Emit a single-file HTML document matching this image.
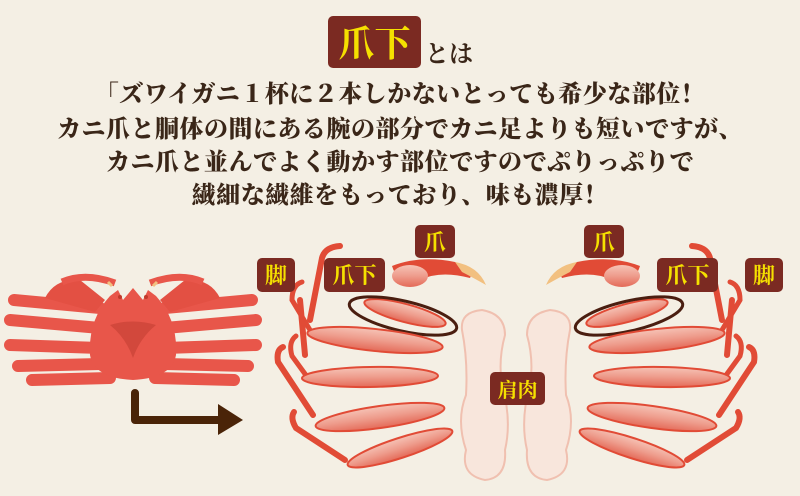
<!DOCTYPE html>
<html><head><meta charset="utf-8"><style>
html,body{margin:0;padding:0;}
body{width:800px;height:496px;background:#f4efe4;overflow:hidden;position:relative;font-family:"Noto Serif CJK SC","Noto Serif CJK JP",serif;}
.t{position:absolute;left:0;width:800px;text-align:center;color:#3a2618;font-weight:900;font-size:24px;line-height:32px;letter-spacing:0.5px;}
.lab{position:absolute;background:#7b2a22;color:#f5e000;font-weight:bold;border-radius:5px;text-align:center;font-family:"Noto Serif CJK SC",serif;}
</style></head><body>
<div class="lab" style="left:328px;top:16px;width:93px;height:52px;font-size:36px;line-height:52px;">爪下</div>
<div style="position:absolute;left:425px;top:34px;font-size:24px;color:#3a2618;font-weight:bold;">とは</div>
<div class="t" style="top:76px;">「ズワイガニ１杯に２本しかないとっても希少な部位！</div>
<div class="t" style="top:111px;">カニ爪と胴体の間にある腕の部分でカニ足よりも短いですが、</div>
<div class="t" style="top:144px;">カニ爪と並んでよく動かす部位ですのでぷりっぷりで</div>
<div class="t" style="top:177px;">繊細な繊維をもっており、味も濃厚！</div>

<svg width="800" height="496" style="position:absolute;left:0;top:0">
<defs>
<linearGradient id="m" x1="0" y1="0" x2="0" y2="1"><stop offset="0" stop-color="#f6c3b6"/><stop offset="0.5" stop-color="#ee9c8c"/><stop offset="1" stop-color="#e46a58"/></linearGradient>
<g id="side">
 <g stroke="#e14b36" stroke-width="6" fill="none" stroke-linecap="round">
  <path d="M310 320 L322 258 Q325 247 340 246"/>
  <path d="M310 330 L292 300 Q292 285 302 282" stroke-width="5"/>
  <path d="M305 355 L300 300"/>
  <path d="M308 378 L292 356 Q288 342 296 336" stroke-width="5"/>
  <path d="M313 415 L278 362 Q276 350 283 347"/>
  <path d="M345 460 L296 428 Q290 418 294 412"/>
 </g>
 <path d="M392 266 Q420 255 455 262 Q475 270 470 278 Q440 270 420 280 Q398 286 392 266Z" fill="#e14b36"/>
 <path d="M455 262 Q478 266 486 285 Q470 276 462 272Z" fill="#f2c080"/>
 <ellipse cx="410" cy="276" rx="18" ry="11" fill="url(#m)"/>
 <ellipse cx="405" cy="313" rx="42" ry="9" transform="rotate(15 405 313)" fill="url(#m)" stroke="#e14b36" stroke-width="2"/>
 <ellipse cx="403" cy="316" rx="55" ry="15" transform="rotate(13 403 316)" fill="none" stroke="#4a1e10" stroke-width="3"/>
 <ellipse cx="375" cy="340" rx="68" ry="11" transform="rotate(6 375 340)" fill="url(#m)" stroke="#e14b36" stroke-width="2"/>
 <ellipse cx="370" cy="377" rx="68" ry="10" transform="rotate(-1 370 377)" fill="url(#m)" stroke="#e14b36" stroke-width="2"/>
 <ellipse cx="380" cy="417" rx="65" ry="11" transform="rotate(-8 380 417)" fill="url(#m)" stroke="#e14b36" stroke-width="2"/>
 <ellipse cx="400" cy="448" rx="55" ry="10" transform="rotate(-18 400 448)" fill="url(#m)" stroke="#e14b36" stroke-width="2"/>
 <path d="M462 330 Q460 312 482 310 Q505 314 505 335 Q498 360 502 385 Q512 420 505 450 Q507 478 485 480 Q460 475 466 450 Q456 420 466 395 Q468 360 462 330Z" fill="#f8e6dc" stroke="#f0c0b0" stroke-width="2"/>
</g>
</defs>
<use href="#side"/>
<use href="#side" transform="translate(1032 0) scale(-1 1)"/>

<!-- left crab -->
<g fill="#e8564a">
 <g stroke="#e8564a" stroke-width="12" stroke-linecap="round">
  <path d="M100 308 L14 300"/><path d="M100 328 L10 320"/><path d="M100 348 L10 345"/><path d="M100 364 L18 366"/><path d="M110 378 L32 380"/>
  <path d="M165 308 L252 300"/><path d="M165 328 L256 320"/><path d="M165 348 L256 345"/><path d="M165 364 L248 366"/><path d="M155 378 L234 380"/>
 </g>
 <path d="M45 298 Q55 278 80 280 L105 300 L95 312Z" fill="#e35043"/>
 <path d="M220 298 Q210 278 185 280 L160 300 L170 312Z" fill="#e35043"/>
 <path d="M62 282 Q85 272 115 283 M203 282 Q180 272 150 283" stroke="#e8564a" stroke-width="7" fill="none"/>
 <path d="M108 282 L112 286 M157 282 L153 286" stroke="#f2c080" stroke-width="3"/>
 <path d="M110 296 L118 290 L123 300 L133 288 L143 300 L148 290 L156 296 Q178 320 176 355 Q172 378 133 380 Q94 378 90 355 Q88 320 110 296Z"/>
 <path d="M110 325 Q133 318 156 325 Q140 338 133 358 Q126 338 110 325Z" fill="#d2483c"/>
 <circle cx="120" cy="297" r="2" fill="#c0392b"/><circle cx="146" cy="297" r="2" fill="#c0392b"/>
</g>
<path d="M135 393 L135 420 L222 420" stroke="#4a2408" stroke-width="8" fill="none" stroke-linejoin="round" stroke-linecap="round"/>
<path d="M218 404 L243 420 L218 435Z" fill="#4a2408"/>
</svg>

<div class="lab" style="left:257px;top:258px;width:38px;height:34px;font-size:22px;line-height:34px;">脚</div>
<div class="lab" style="left:324px;top:258px;width:61px;height:34px;font-size:22px;line-height:34px;">爪下</div>
<div class="lab" style="left:415px;top:225px;width:40px;height:33px;font-size:22px;line-height:33px;">爪</div>
<div class="lab" style="left:490px;top:372px;width:55px;height:33px;font-size:20px;line-height:33px;">肩肉</div>
<div class="lab" style="left:584px;top:225px;width:40px;height:33px;font-size:22px;line-height:33px;">爪</div>
<div class="lab" style="left:657px;top:258px;width:61px;height:34px;font-size:22px;line-height:34px;">爪下</div>
<div class="lab" style="left:745px;top:258px;width:38px;height:34px;font-size:22px;line-height:34px;">脚</div>
</body></html>
